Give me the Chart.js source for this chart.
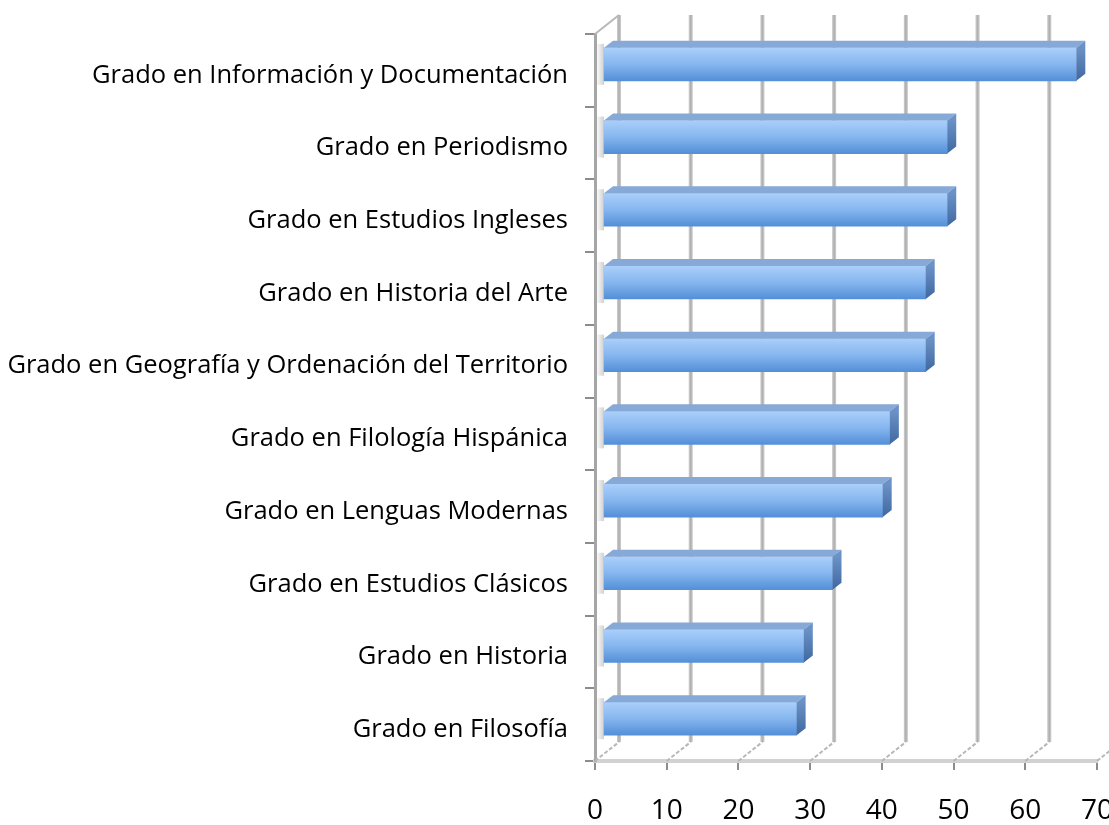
<!DOCTYPE html>
<html>
<head>
<meta charset="utf-8">
<script src="https://cdn.jsdelivr.net/npm/chart.js@4.4.1/dist/chart.umd.min.js"></script>
<style>
  html, body { margin: 0; padding: 0; background: #fff; }
  #wrap { width: 1109px; height: 825px; }
</style>
</head>
<body>
<div id="wrap"><canvas id="chart"></canvas></div>
<script>
// chart data
const grados = [
  'Grado en Información y Documentación',
  'Grado en Periodismo',
  'Grado en Estudios Ingleses',
  'Grado en Historia del Arte',
  'Grado en Geografía y Ordenación del Territorio',
  'Grado en Filología Hispánica',
  'Grado en Lenguas Modernas',
  'Grado en Estudios Clásicos',
  'Grado en Historia',
  'Grado en Filosofía'
];
const valores = [66, 48, 48, 45, 45, 40, 39, 32, 28, 27];
const xTicks = [0, 10, 20, 30, 40, 50, 60, 70];

// 3d look: depth of the box and of the bars
const WALL_DX = 24, WALL_DY = -19;
const BAR_DX = 8, BAR_DY = -6;
const FACE_DX = 9, FACE_DY = -7;

const threeD = {
  id: 'threeD',
  beforeDatasetsDraw(chart) {
    const ctx = chart.ctx;
    const x = chart.scales.x;
    const area = chart.chartArea;
    ctx.save();
    // back wall gridlines
    xTicks.forEach(v => {
      const px = x.getPixelForValue(v) + WALL_DX;
      ctx.strokeStyle = '#c6c6c6';
      ctx.lineWidth = 4;
      ctx.beginPath();
      ctx.moveTo(px, area.top + WALL_DY);
      ctx.lineTo(px, area.bottom + WALL_DY);
      ctx.stroke();
      ctx.strokeStyle = '#b0b0b0';
      ctx.lineWidth = 1.5;
      ctx.beginPath();
      ctx.moveTo(px, area.top + WALL_DY);
      ctx.lineTo(px, area.bottom + WALL_DY);
      ctx.stroke();
      // floor diagonals
      ctx.strokeStyle = '#b8b8b8';
      ctx.lineWidth = 2;
      ctx.setLineDash([4, 2]);
      ctx.beginPath();
      ctx.moveTo(x.getPixelForValue(v), area.bottom);
      ctx.lineTo(px, area.bottom + WALL_DY);
      ctx.stroke();
      ctx.setLineDash([]);
    });
    // left wall top edge
    ctx.strokeStyle = '#b8b8b8';
    ctx.lineWidth = 2;
    ctx.beginPath();
    ctx.moveTo(area.left, area.top);
    ctx.lineTo(area.left + WALL_DX, area.top + WALL_DY);
    ctx.stroke();
    ctx.restore();

    ctx.save();
    ctx.translate(BAR_DX, BAR_DY);
  },
  afterDatasetsDraw(chart) {
    const ctx = chart.ctx;
    const meta = chart.getDatasetMeta(0);
    meta.data.forEach(bar => {
      const p = bar.getProps(['x', 'y', 'base', 'height'], true);
      const top = p.y - p.height / 2, bot = p.y + p.height / 2;
      // soft shadow where the bar meets the left wall
      const sh = ctx.createLinearGradient(p.base - 8, 0, p.base, 0);
      sh.addColorStop(0, 'rgba(150,150,150,0)');
      sh.addColorStop(1, 'rgba(150,150,150,0.45)');
      ctx.fillStyle = sh;
      ctx.fillRect(p.base - 8, top - 4, 8, p.height + 8);
      // top face
      ctx.fillStyle = '#86a9d8';
      ctx.beginPath();
      ctx.moveTo(p.base, top);
      ctx.lineTo(p.x, top);
      ctx.lineTo(p.x + FACE_DX, top + FACE_DY);
      ctx.lineTo(p.base + FACE_DX, top + FACE_DY);
      ctx.closePath();
      ctx.fill();
      // right face
      const g = ctx.createLinearGradient(0, top, 0, bot);
      g.addColorStop(0, '#6b92c6');
      g.addColorStop(1, '#3f68a0');
      ctx.fillStyle = g;
      ctx.beginPath();
      ctx.moveTo(p.x, top);
      ctx.lineTo(p.x + FACE_DX, top + FACE_DY);
      ctx.lineTo(p.x + FACE_DX, bot + FACE_DY);
      ctx.lineTo(p.x, bot);
      ctx.closePath();
      ctx.fill();
    });
    ctx.restore();
  }
};

new Chart(document.getElementById('chart'), {
  type: 'bar',
  data: {
    labels: grados,
    datasets: [{
      data: valores,
      barThickness: 33,
      borderWidth: 0,
      backgroundColor: function(c) {
        const chart = c.chart;
        if (!chart.chartArea || c.dataIndex === undefined) return '#7fb0ec';
        const y = chart.scales.y.getPixelForValue(c.dataIndex);
        const g = chart.ctx.createLinearGradient(0, y - 16, 0, y + 16);
        g.addColorStop(0, '#a9cefa');
        g.addColorStop(0.5, '#86b6ef');
        g.addColorStop(1, '#5590d8');
        return g;
      }
    }]
  },
  options: {
    indexAxis: 'y',
    responsive: true,
    maintainAspectRatio: false,
    animation: false,
    layout: { autoPadding: false, padding: { top: 34, right: 12, left: 0, bottom: 0 } },
    plugins: { legend: { display: false }, tooltip: { enabled: false } },
    scales: {
      x: {
        min: 0,
        max: 70,
        afterFit: s => { s.height = 64; s.paddingLeft = 0; s.paddingRight = 0; },
        afterBuildTicks: s => { s.ticks = xTicks.map(v => ({ value: v })); },
        grid: { drawOnChartArea: false, tickLength: 9, color: '#8c8c8c', lineWidth: 2 },
        border: { color: '#d2d2d2', width: 4 },
        ticks: { font: { family: 'Open Sans', size: 28 }, color: '#000', padding: 24, maxRotation: 0 }
      },
      y: {
        afterFit: s => { s.width = 595; },
        grid: { drawOnChartArea: false, tickLength: 10, color: '#8c8c8c', lineWidth: 2, offset: true },
        border: { color: '#a6a6a6', width: 3 },
        ticks: { font: { family: 'Open Sans', size: 25.5 }, color: '#000', padding: 17, labelOffset: 5 }
      }
    }
  },
  plugins: [threeD]
});
</script>
</body>
</html>
